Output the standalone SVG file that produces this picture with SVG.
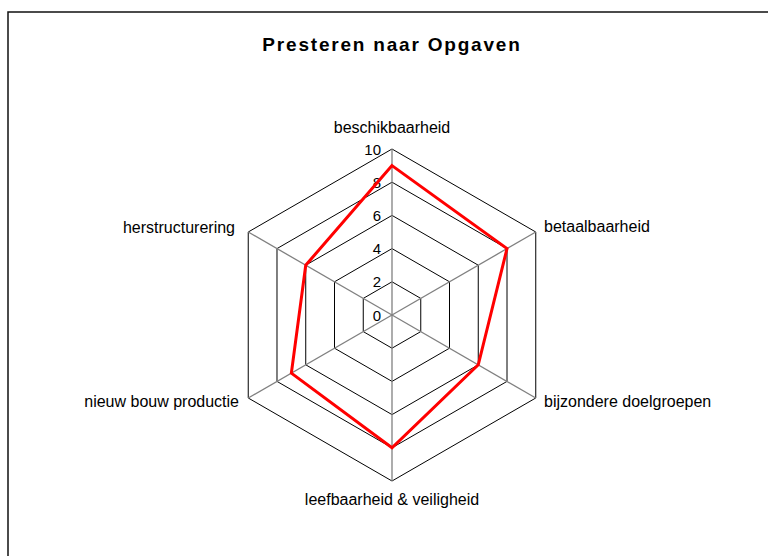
<svg xmlns="http://www.w3.org/2000/svg" width="768" height="556" viewBox="0 0 768 556">
<style>
.ring{fill:none;stroke:#000;stroke-width:1}
.spoke{stroke:#808080;stroke-width:1.3}
.lbl{font-family:"Liberation Sans",Arial,sans-serif;font-size:16px;fill:#000}
.tick{font-family:"Liberation Sans",Arial,sans-serif;font-size:15px;fill:#000;text-anchor:end}
.title{font-family:"Liberation Sans",Arial,sans-serif;font-size:19px;font-weight:bold;fill:#000;text-anchor:middle;letter-spacing:1.8px}
</style>
<rect width="768" height="556" fill="#fff"/>
<rect x="8" y="12" width="800" height="600" fill="none" stroke="#111" stroke-width="1.5"/>
<text class="title" x="392" y="51">Presteren naar Opgaven</text>
<g id="grid">
<polygon class="ring" points="392,281.8 420.75,298.4 420.75,331.6 392,348.2 363.25,331.6 363.25,298.4"/>
<polygon class="ring" points="392,248.6 449.5,281.8 449.5,348.2 392,381.4 334.5,348.2 334.5,281.8"/>
<polygon class="ring" points="392,215.4 478.26,265.2 478.26,364.8 392,414.6 305.74,364.8 305.74,265.2"/>
<polygon class="ring" points="392,182.2 507.01,248.6 507.01,381.4 392,447.8 276.99,381.4 276.99,248.6"/>
<polygon class="ring" points="392,149 535.76,232 535.76,398 392,481 248.24,398 248.24,232"/>
</g>
<g id="connectors">
<line class="spoke" x1="392" y1="315" x2="392" y2="149"/>
<line class="spoke" x1="392" y1="315" x2="535.76" y2="232"/>
<line class="spoke" x1="392" y1="315" x2="535.76" y2="398"/>
<line class="spoke" x1="392" y1="315" x2="392" y2="481"/>
<line class="spoke" x1="392" y1="315" x2="248.24" y2="398"/>
<line class="spoke" x1="392" y1="315" x2="248.24" y2="232"/>
</g>
<g id="ticks">
<text class="tick" x="381" y="154.5">10</text>
<text class="tick" x="381" y="187.7">8</text>
<text class="tick" x="381" y="220.9">6</text>
<text class="tick" x="381" y="254.1">4</text>
<text class="tick" x="381" y="287.3">2</text>
<text class="tick" x="381" y="320.5">0</text>
</g>
<g id="series">
<polygon points="392,165.6 507.01,248.6 478.26,364.8 392,447.8 291.37,373.1 305.74,265.2" fill="none" stroke="#ff0000" stroke-width="3" stroke-linejoin="miter"/>
</g>
<g id="node-beschikbaarheid"><text class="lbl" x="392" y="133" text-anchor="middle">beschikbaarheid</text></g>
<g id="node-betaalbaarheid"><text class="lbl" x="544" y="232">betaalbaarheid</text></g>
<g id="node-bijzondere"><text class="lbl" x="544" y="406.5">bijzondere doelgroepen</text></g>
<g id="node-leefbaarheid"><text class="lbl" x="392" y="505" text-anchor="middle">leefbaarheid &amp; veiligheid</text></g>
<g id="node-nieuwbouw"><text class="lbl" x="239" y="406.5" text-anchor="end">nieuw bouw productie</text></g>
<g id="node-herstructurering"><text class="lbl" x="235" y="233" text-anchor="end">herstructurering</text></g>
</svg>
